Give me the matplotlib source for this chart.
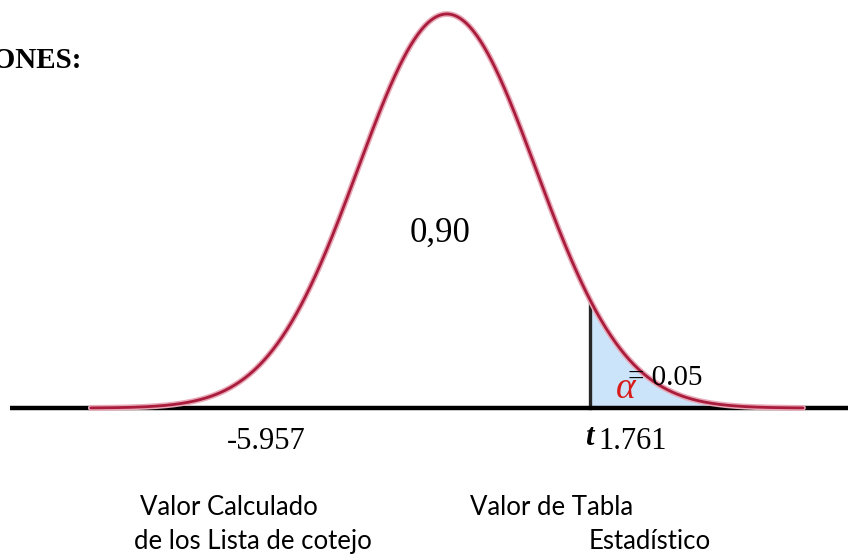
import numpy as np
import matplotlib.pyplot as plt

# curve in z units (standard normal), tail cut at the table value
z_lo, z_hi = -4.0, 4.0
z_crit = 1.61
alpha_label = "= 0.05"
area_label = "0,90"
t_calc_label = "-5.957"
t_tab_label = "1.761"
captions_left = ["Valor Calculado", "de los Lista de cotejo"]
captions_right = ["Valor de Tabla", "Estadístico"]

z = np.linspace(z_lo, z_hi, 600)
pdf = np.exp(-z**2 / 2) / np.sqrt(2 * np.pi)

fig = plt.figure(figsize=(8.48, 5.56), dpi=100)
ax = fig.add_axes([0, 0, 1, 1])
ax.set_xlim(-5.02, 4.506)
ax.set_ylim(-0.1498, 0.4131)
ax.axis("off")

serif = "Liberation Serif"

# shaded rejection region
zt = z[z >= z_crit]
ax.fill_between(zt, 0, np.exp(-zt**2 / 2) / np.sqrt(2 * np.pi), color="#cce4f9", lw=0)
ax.plot([z_crit, z_crit], [0, np.exp(-z_crit**2 / 2) / np.sqrt(2 * np.pi)], color="#262626", lw=2.4)

# baseline
ax.plot([-4.91, 4.506], [0, 0], color="black", lw=3.2, solid_capstyle="butt")

# bell curve with soft halo
ax.plot(z, pdf, color="#e8a9b8", lw=4.2, solid_capstyle="round")
ax.plot(z, pdf, color="#a91c3c", lw=2.0, solid_capstyle="round")

ax.text(-4.10, 0.352, "CONCLUSIONES:", fontfamily=serif, fontweight="bold", fontsize=21,
        ha="right", va="center", clip_on=True)
ax.text(-0.08, 0.177, area_label, fontfamily=serif, fontsize=25, ha="center", va="center")
ax.text(-2.03, -0.034, t_calc_label, fontfamily=serif, fontsize=22, ha="center", va="center")
ax.text(1.60, -0.030, "t", fontfamily=serif, fontweight="bold", fontstyle="italic", fontsize=22,
        ha="center", va="center")
ax.text(1.70, -0.034, t_tab_label, fontfamily=serif, fontsize=22, ha="left", va="center")
ax.text(2.03, 0.0304, alpha_label, fontfamily=serif, fontsize=21, ha="left", va="center")
ax.text(2.01, 0.0192, "α", fontfamily=serif, fontstyle="italic", fontsize=27, color="#d81a1a",
        ha="center", va="center")

left_x = [-2.45, -2.18]
right_x = [1.18, 2.28]
cap_y = [-0.1012, -0.1347]
for i in range(2):
    ax.text(left_x[i], cap_y[i], captions_left[i], fontfamily="Lato", fontsize=18.5,
            ha="center", va="center")
    ax.text(right_x[i], cap_y[i], captions_right[i], fontfamily="Lato", fontsize=18.5,
            ha="center", va="center")

fig.savefig("out.png", dpi=100)
